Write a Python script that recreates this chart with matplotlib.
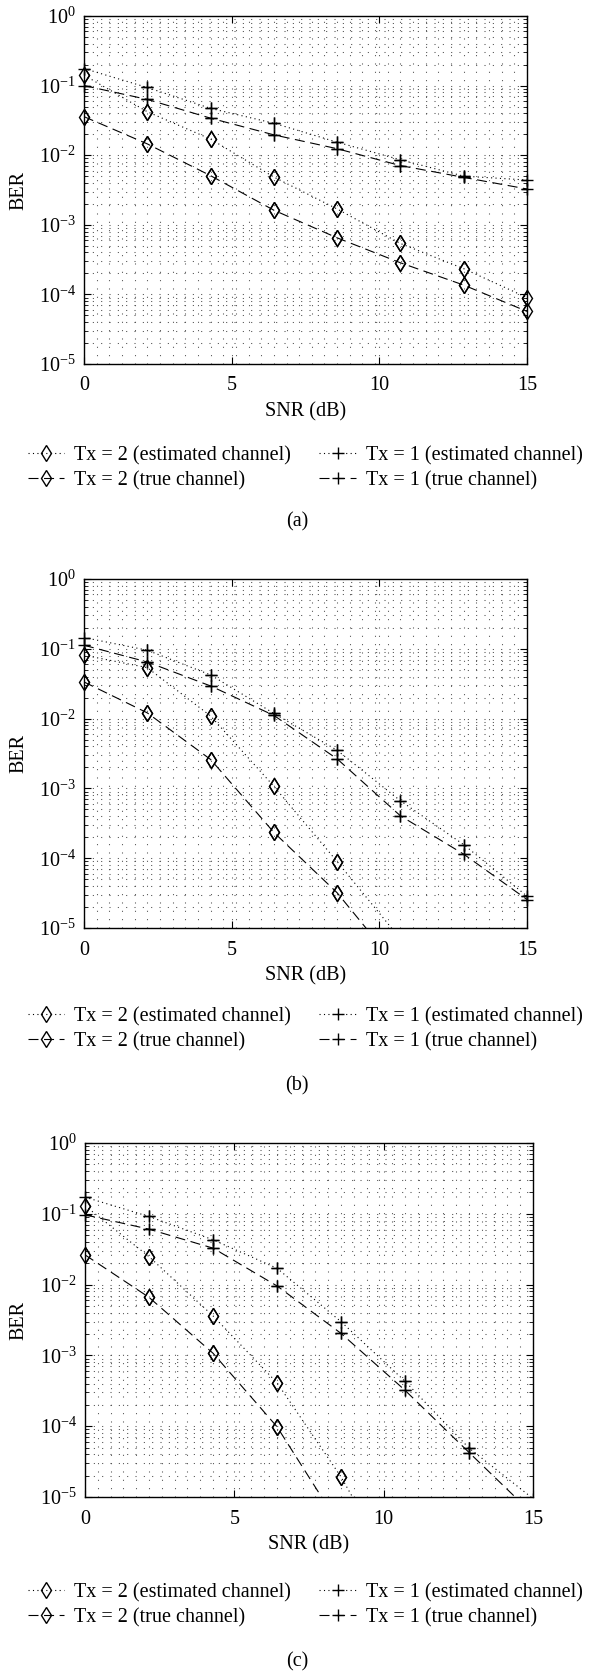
import numpy as np
import matplotlib
matplotlib.use('Agg')
import matplotlib.pyplot as plt
from matplotlib.ticker import LogLocator, FixedLocator, NullFormatter

plt.rcParams['font.family'] = ['Liberation Serif', 'DejaVu Serif']
plt.rcParams['mathtext.fontset'] = 'custom'
plt.rcParams['mathtext.rm'] = 'Liberation Serif'
plt.rcParams['mathtext.it'] = 'Liberation Serif:italic'
fs = 14.5
plt.rcParams['font.size'] = fs

# SNR points (dB)
snr = [0, 2.14, 4.29, 6.43, 8.57, 10.71, 12.86, 15]

# panel (a)
a_tx2_est = [0.1415, 0.0422, 0.0170, 0.00485, 0.00169, 0.00054, 0.000234, 9.0e-5]
a_tx2_true = [0.0358, 0.01456, 0.00507, 0.00162, 0.00065, 0.000285, 0.000136, 5.7e-5]
a_tx1_est = [0.176, 0.094, 0.047, 0.0288, 0.0154, 0.0086, 0.0050, 0.0044]
a_tx1_true = [0.1, 0.0634, 0.034, 0.0196, 0.0124, 0.0071, 0.0048, 0.00327]

# panel (b)
b_tx2_est = [0.0809, 0.0538, 0.01087, 0.00107, 8.95e-5, 7e-6]
b_tx2_true = [0.0335, 0.0121, 0.00259, 0.000234, 3.2e-5, 2.5e-6]
b_tx1_est = [0.145, 0.0955, 0.0422, 0.01186, 0.00352, 0.000667, 0.000156, 2.86e-5]
b_tx1_true = [0.1125, 0.0648, 0.0293, 0.0111, 0.00265, 0.000406, 0.000114, 2.56e-5]

# panel (c)
c_tx2_est = [0.13, 0.0249, 0.0036, 0.00041, 1.93e-5, 5e-7]
c_tx2_true = [0.0263, 0.00662, 0.00107, 9.8e-5, 3.7e-6]
c_tx1_est = [0.172, 0.0917, 0.0429, 0.017, 0.003, 0.000433, 4.9e-5, 9.5e-6]
c_tx1_true = [0.0968, 0.0607, 0.0327, 0.00957, 0.00205, 0.000323, 4.25e-5, 5.7e-6]

labels = ['Tx = 2 (estimated channel)', 'Tx = 2 (true channel)',
          'Tx = 1 (estimated channel)', 'Tx = 1 (true channel)']

W, H = 594, 1673
fig = plt.figure(figsize=(W / 100, H / 100), dpi=100)

# (left, right, top, bottom) in pixels
boxes = [(84, 527, 16, 364), (84, 527, 579, 928), (85, 533, 1143, 1497)]
legend_tops = [446, 1007, 1583]
caption_y = [522, 1086, 1662]
panels = [(a_tx2_est, a_tx2_true, a_tx1_est, a_tx1_true),
          (b_tx2_est, b_tx2_true, b_tx1_est, b_tx1_true),
          (c_tx2_est, c_tx2_true, c_tx1_est, c_tx1_true)]
captions = ['(a)', '(b)', '(c)']

dash = (0, (9, 5))
dots = (0, (1, 3))
styles = [(dots, 'd'), (dash, 'd'), (dots, '+'), (dash, '+')]
msize = {'d': 8.5, '+': 8}

for (l, r, t, b), series, cap, lt, cy in zip(boxes, panels, captions, legend_tops, caption_y):
    ax = fig.add_axes([l / W, 1 - b / H, (r - l) / W, (b - t) / H])
    hs = []
    for vals, (ls, mk) in zip(series, styles):
        x = snr[:len(vals)]
        h, = ax.plot(x, vals, color='black', linestyle=ls, linewidth=0.8,
                     marker=mk, markersize=msize[mk], markerfacecolor='none',
                     markeredgewidth=1.0)
        hs.append(h)
        # redraw visible markers unclipped so the edge ones stay whole
        xs = [xx for xx, v in zip(x, vals) if v >= 1e-5]
        vs = [v for v in vals if v >= 1e-5]
        ax.plot(xs, vs, linestyle='none', color='black', marker=mk,
                markersize=msize[mk], markerfacecolor='none', markeredgewidth=1.0,
                clip_on=False)

    ax.set_yscale('log')
    ax.set_xlim(0, 15)
    ax.set_ylim(1e-5, 1)
    ax.set_xticks([0, 5, 10, 15])
    ax.xaxis.set_minor_locator(FixedLocator(np.arange(0, 15.01, 15 / 35)))
    ax.yaxis.set_major_locator(LogLocator(base=10, numticks=10))
    ax.yaxis.set_minor_locator(LogLocator(base=10, subs=np.arange(2, 10), numticks=20))
    ax.yaxis.set_minor_formatter(NullFormatter())
    ax.tick_params(which='both', direction='in', top=True, right=True, labelsize=fs)
    ax.tick_params(which='major', length=5, width=0.8, pad=6)
    ax.tick_params(axis='x', which='major', pad=9)
    ax.tick_params(which='minor', length=3, width=0.6)
    ax.tick_params(axis='x', which='minor', length=0)
    ax.grid(True, which='both', linestyle=(0, (1, 7)), linewidth=0.75, color='0.3')
    for s in ax.spines.values():
        s.set_linewidth(1.0)

    hpx = b - t
    wpx = r - l
    ax.set_xlabel('SNR (dB)', fontsize=fs, va='center')
    ax.xaxis.set_label_coords(0.5, -48 / hpx)
    ax.set_ylabel('BER', fontsize=fs, va='center')
    ax.yaxis.set_label_coords(-(l - 19) / wpx, 0.5)

    ax.legend(hs, labels, ncol=2, loc='upper left', frameon=False,
              bbox_to_anchor=(28 / W, 1 - lt / H), bbox_transform=fig.transFigure,
              borderpad=0, borderaxespad=0, handlelength=1.8, handletextpad=0.5,
              columnspacing=1.4, labelspacing=0.3, fontsize=fs)

    fig.text(0.5, 1 - cy / H, cap, ha='center', va='center', fontsize=fs)

fig.savefig('out.png', dpi=100)
